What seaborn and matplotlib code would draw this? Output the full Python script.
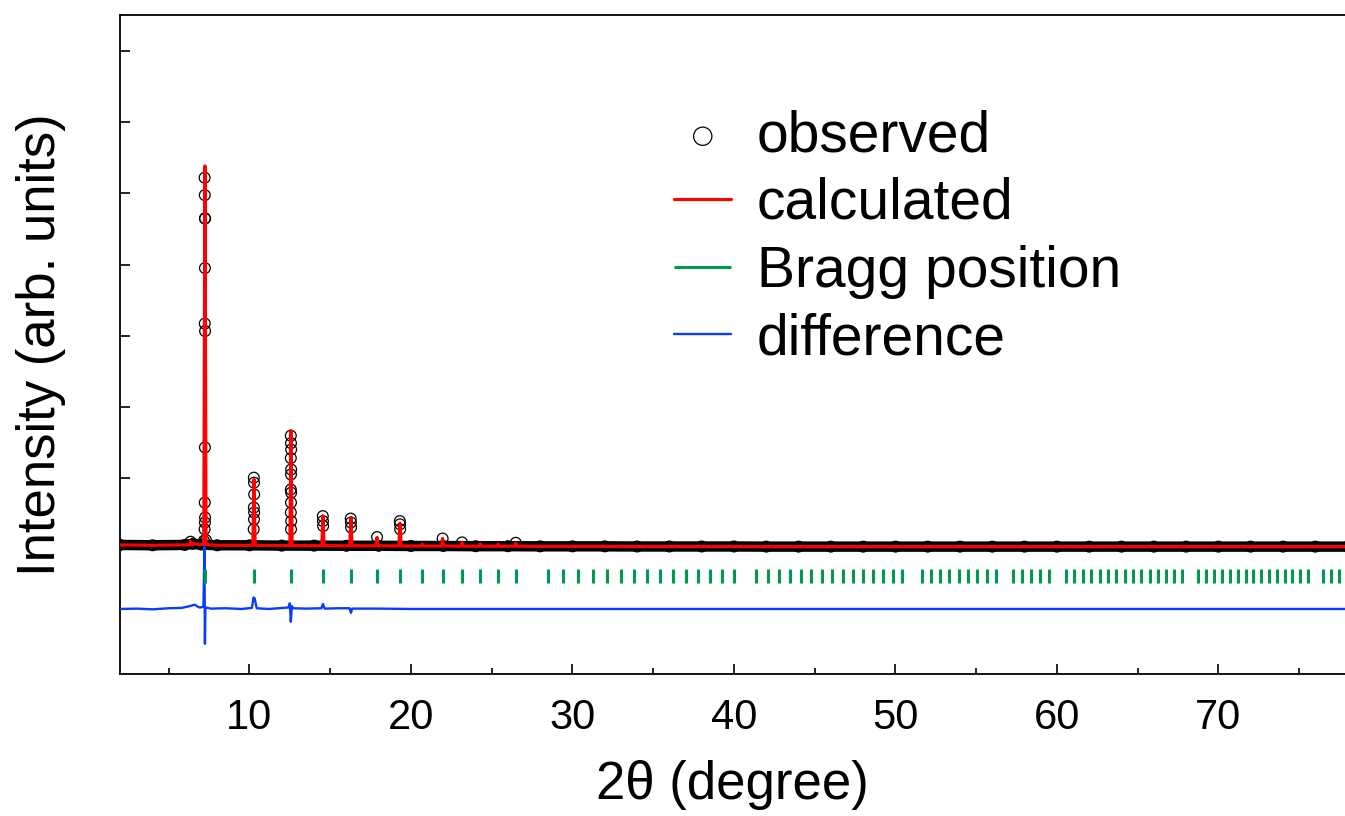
import matplotlib
matplotlib.use("Agg")
import matplotlib.pyplot as plt
import numpy as np
import pandas as pd
import seaborn as sns

# background of the observed pattern (2theta, intensity)
bg_2theta = [2, 4, 6, 6.5, 7, 8, 10, 12, 14, 16, 18, 20, 22, 24, 26, 28, 30, 32, 34, 36,
             38, 40, 42, 44, 46, 48, 50, 52, 54, 56, 58, 60, 62, 64, 66, 68, 70, 72,
             74, 76, 78]
bg_int = [60, 55, 60, 75, 65, 55, 55, 50, 50, 48, 48, 45, 45, 42, 42, 40, 40, 40, 38, 38,
          38, 38, 36, 36, 36, 36, 36, 36, 36, 36, 36, 36, 36, 36, 36, 36, 36, 36,
          36, 36, 36]

# calculated peaks: position, top, base
calc_pos = [6.35, 7.24, 10.28, 12.57, 14.55, 16.28, 17.90, 19.32, 20.70, 21.96, 23.16, 24.29,
            25.39, 26.49]
calc_top = [110, 5385, 980, 1665, 470, 445, 165, 365, 70, 150, 95, 75, 70, 85]
calc_base = [60, 65, 55, 50, 50, 48, 48, 46, 45, 45, 43, 42, 42, 42]

# observed points on the peaks
obs_pk_2theta = [7.22, 7.23, 7.24, 7.25, 7.24, 7.23, 7.25, 7.24, 7.23, 7.25, 7.24, 7.22,
                 7.18, 7.30,
                 10.27, 10.28, 10.29, 10.27, 10.29, 10.28, 10.26,
                 12.56, 12.57, 12.58, 12.56, 12.58, 12.57, 12.56, 12.58, 12.57, 12.56, 12.58, 12.57,
                 14.54, 14.55, 14.56,
                 16.27, 16.28, 16.29,
                 17.90,
                 19.31, 19.32, 19.33,
                 21.96, 23.16, 26.49, 6.35]
obs_pk_int = [5220, 4975, 4650, 4645, 3950, 3170, 3065, 1430, 655, 445, 375, 280,
              120, 130,
              1005, 935, 770, 585, 515, 420, 280,
              1595, 1490, 1400, 1280, 1120, 1050, 840, 795, 655, 515, 395, 280,
              465, 395, 325,
              430, 375, 305,
              170,
              395, 350, 280,
              150, 95, 90, 105]

# difference curve
diff_2theta = [2.0, 3.0, 4.0, 5.0, 5.8, 6.3, 6.6, 6.9, 7.15, 7.21, 7.24, 7.27, 7.33, 7.6,
               8.5, 9.5, 10.15, 10.25, 10.32, 10.45, 11.2, 12.4, 12.5, 12.56, 12.62, 12.7,
               13.5, 14.45, 14.55, 14.65, 15.5, 16.2, 16.28, 16.36, 18, 20, 30, 40, 50,
               60, 70, 78]
diff_int = [-840, -835, -845, -830, -825, -800, -780, -820, -810, 30, -1330, -830, -820, -835,
            -830, -840, -825, -680, -690, -830, -840, -820, -760, -1020, -800, -830,
            -835, -830, -770, -835, -830, -830, -895, -835, -835, -840, -840, -840, -840,
            -840, -840, -840]

# Bragg reflection positions
bragg_pos = [7.24, 10.28, 12.57, 14.55, 16.28, 17.90, 19.32, 20.70, 21.96, 23.16, 24.29,
             25.39, 26.49, 28.49, 29.43, 30.36, 31.25, 32.12, 32.99, 33.83, 34.64, 35.44,
             36.23, 37.01, 37.78, 38.54, 39.26, 39.99, 41.39, 42.09, 42.79, 43.47, 44.14,
             44.77, 45.44, 46.07, 46.74, 47.36, 47.99, 48.61, 49.23, 49.83, 50.43, 51.63,
             52.21, 52.78, 53.34, 53.92, 54.52, 55.07, 55.66, 56.21, 57.30, 57.86, 58.40,
             58.96, 59.52, 60.57, 61.08, 61.62, 62.13, 62.65, 63.17, 63.68, 64.20, 64.72,
             65.23, 65.75, 66.25, 66.74, 67.26, 67.75, 68.74, 69.24, 69.73, 70.23, 70.72,
             71.20, 71.70, 72.17, 72.66, 73.14, 73.63, 74.11, 74.58, 75.06, 75.55, 76.50,
             76.98, 77.46]

sns.set_theme(style="white")
plt.rcParams['font.family'] = ['Liberation Sans', 'DejaVu Sans']
plt.rcParams['text.color'] = 'black'
plt.rcParams['axes.labelcolor'] = 'black'
plt.rcParams['xtick.color'] = 'black'
plt.rcParams['ytick.color'] = 'black'

# build tables
bg = pd.DataFrame({'x': bg_2theta, 'y': bg_int})
obs = pd.concat([bg, pd.DataFrame({'x': obs_pk_2theta, 'y': obs_pk_int})], ignore_index=True)
w = 0.07
calc_x = list(bg_2theta)
calc_y = list(bg_int)
for p, t, b in zip(calc_pos, calc_top, calc_base):
    calc_x += [p - w, p, p + w]
    calc_y += [b, t, b]
calc = pd.DataFrame({'x': calc_x, 'y': calc_y}).sort_values('x')
diff = pd.DataFrame({'x': diff_2theta, 'y': diff_int})

fig = plt.figure(figsize=(13.45, 8.16), dpi=100)
ax = fig.add_axes([0.0892, 0.174, 0.9108, 0.8076])

# thick band of overlapping observed circles
ax.plot(bg['x'], bg['y'], color='black', lw=7.5, solid_capstyle='round', zorder=2)
sns.scatterplot(data=obs, x='x', y='y', ax=ax, marker='o', s=60, facecolor='none',
                edgecolor='black', linewidth=0.9, label='observed', zorder=3)
sns.lineplot(data=calc, x='x', y='y', ax=ax, color='#ff0000', lw=2.3, sort=False,
             estimator=None, label='calculated', zorder=4)
sns.lineplot(data=diff, x='x', y='y', ax=ax, color='#0a3cff', lw=1.7, sort=False,
             estimator=None, label='difference', zorder=4)
bragg = ax.vlines(bragg_pos, -480, -280, color='#009a4e', lw=2.2, label='Bragg position',
                  zorder=5)

ax.set_xlim(1.98, 77.84)
ax.set_ylim(-1754, 7506)
ax.set_xticks(range(10, 80, 10))
ax.set_xticks(range(5, 80, 10), minor=True)
ax.set_yticks(range(0, 8000, 1000))
ax.set_yticklabels([])
ax.tick_params(axis='both', which='major', direction='in', length=7, width=1.2,
               labelsize=30, pad=17, bottom=True, left=True)
ax.tick_params(axis='x', which='minor', direction='in', length=4, width=1.2, bottom=True)
for s in ['left', 'bottom', 'top']:
    ax.spines[s].set_color('black')
    ax.spines[s].set_linewidth(1.3)
ax.spines['right'].set_visible(False)

ax.set_xlabel('2θ (degree)', fontsize=38, labelpad=16)
ax.set_ylabel('Intensity (arb. units)', fontsize=38, labelpad=22)

h, l = ax.get_legend_handles_labels()
order = ['observed', 'calculated', 'Bragg position', 'difference']
hd = dict(zip(l, h))
ax.legend([hd[k] for k in order], order, loc='upper left', bbox_to_anchor=(0.4632, 0.929),
          bbox_transform=fig.transFigure, frameon=False, fontsize=41, handlelength=1.0,
          handletextpad=0.45, labelspacing=0.24, borderpad=0.4, markerscale=1.7)

fig.savefig('out.png', dpi=100)
